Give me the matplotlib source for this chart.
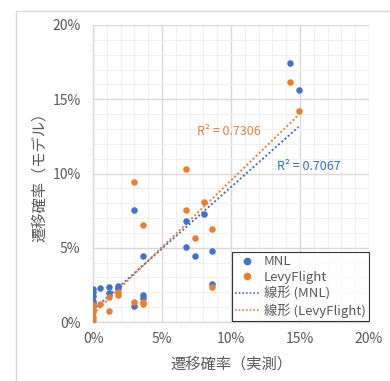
import numpy as np
import matplotlib
matplotlib.use("Agg")
import matplotlib.pyplot as plt
from matplotlib.ticker import MultipleLocator, FuncFormatter
from matplotlib.patches import Rectangle
from matplotlib.lines import Line2D

plt.rcParams['font.family'] = ['Noto Sans CJK JP', 'DejaVu Sans']

# Observed vs. modelled transition probabilities (%)
observed = [0, 0, 0, 0, 0, 0.5, 1.15, 1.15, 1.8, 1.8, 3.0, 3.0, 3.65, 3.65, 3.65,
            6.75, 6.75, 7.4, 8.05, 8.6, 8.6, 14.3, 14.9]
mnl = [2.2, 2.0, 1.75, 1.4, 1.25, 2.27, 2.33, 1.97, 2.42, 2.3, 1.1, 7.51, 1.8, 1.6, 4.46,
       6.8, 5.07, 4.42, 7.29, 4.78, 2.53, 17.45, 15.6]
levy = [1.15, 0.9, 0.65, 0.35, 0.15, 1.2, 1.66, 0.72, 2.02, 1.82, 1.37, 9.42, 1.35, 1.24, 6.5,
        10.32, 7.51, 5.67, 8.05, 6.26, 2.38, 16.13, 14.22]

series_names = ['MNL', 'LevyFlight']
trend_names = ['線形 (MNL)', '線形 (LevyFlight)']
r2_labels = ['R² = 0.7067', 'R² = 0.7306']

blue = '#4472C4'
orange = '#ED7D31'
grey_text = '#595959'

W, H = 390, 381
fig = plt.figure(figsize=(W / 100, H / 100), dpi=100)

# chart-area frame
fig.patches.append(Rectangle((16 / W, -0.1), 1.2, (H - 11) / H + 0.1,
                             transform=fig.transFigure, fill=False,
                             edgecolor='#D9D9D9', linewidth=1.0))

ax = fig.add_axes([93 / W, (H - 322) / H, (369 - 93) / W, (322 - 25) / H])
ax.set_xlim(0, 20)
ax.set_ylim(0, 20)
ax.xaxis.set_major_locator(MultipleLocator(5))
ax.yaxis.set_major_locator(MultipleLocator(5))
ax.xaxis.set_minor_locator(MultipleLocator(1))
ax.yaxis.set_minor_locator(MultipleLocator(1))
fmt = FuncFormatter(lambda v, p: f"{v:.0f}%")
ax.xaxis.set_major_formatter(fmt)
ax.yaxis.set_major_formatter(fmt)
ax.grid(which='major', color='#D9D9D9', linewidth=1.0)
ax.grid(which='minor', color='#F0F0F0', linewidth=0.8)
ax.set_axisbelow(True)
for s in ['top', 'right']:
    ax.spines[s].set_visible(False)
for s in ['left', 'bottom']:
    ax.spines[s].set_color('#D9D9D9')
    ax.spines[s].set_linewidth(1.0)
ax.tick_params(which='both', length=0, labelsize=10, labelcolor=grey_text)
ax.tick_params(axis='x', pad=7)
ax.tick_params(axis='y', pad=9)

x = np.array(observed)
for ys, c in [(mnl, blue), (levy, orange)]:
    ax.scatter(x, ys, s=22, color=c, zorder=3, linewidths=0)

# linear trend lines
for ys, c in [(mnl, blue), (levy, orange)]:
    k, b = np.polyfit(x, ys, 1)
    xx = np.array([x.min(), x.max()])
    ax.plot(xx, k * xx + b, linestyle=(0, (1, 1.2)), color=c, linewidth=1.4, zorder=2)

ax.text(13.3, 10.45, r2_labels[0], color='#2E75B6', fontsize=9, ha='left', va='center')
ax.text(7.55, 12.8, r2_labels[1], color=orange, fontsize=9, ha='left', va='center')

ax.set_xlabel('遷移確率（実測）', fontsize=11, color=grey_text, labelpad=7)
ax.set_ylabel('遷移確率（モデル）', fontsize=11, color=grey_text, labelpad=3)

handles = [
    Line2D([], [], marker='o', linestyle='none', color=blue, markersize=4.5),
    Line2D([], [], marker='o', linestyle='none', color=orange, markersize=4.5),
    Line2D([], [], linestyle=(0, (1, 1.2)), color=blue, linewidth=1.2),
    Line2D([], [], linestyle=(0, (1, 1.2)), color=orange, linewidth=1.2),
]
leg = ax.legend(handles, series_names + trend_names, loc='lower right',
                bbox_to_anchor=(369 / W, (H - 321) / H), bbox_transform=fig.transFigure,
                fontsize=9.5, frameon=True, fancybox=False, borderpad=0.25,
                handlelength=1.9, handletextpad=0.3, labelspacing=0.2, borderaxespad=0)
leg.get_frame().set_edgecolor('black')
leg.get_frame().set_linewidth(0.8)
for t in leg.get_texts():
    t.set_color(grey_text)

fig.savefig('out.png', dpi=100)
